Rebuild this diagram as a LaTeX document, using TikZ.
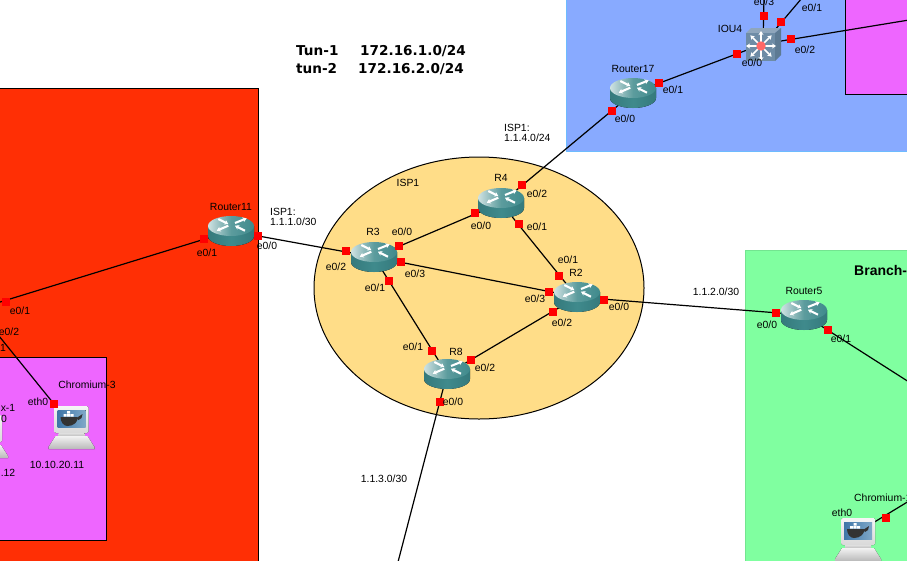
\documentclass[tikz,border=0pt]{standalone}
\usepackage{fontspec}
\setmainfont{Liberation Sans}
\newfontfamily\titlefont{DejaVu Sans}
\usetikzlibrary{arrows.meta}
\definecolor{redzone}{HTML}{FF2F05}
\definecolor{violetzone}{HTML}{EE66FF}
\definecolor{bluezone}{HTML}{88AAFF}
\definecolor{greenzone}{HTML}{80FFA0}
\definecolor{ispzone}{HTML}{FFDD88}
\definecolor{teal1}{HTML}{3F8A8C}
\definecolor{teal2}{HTML}{2F6F72}
\definecolor{portred}{HTML}{FF0000}
\definecolor{swfront}{HTML}{6E8CA6}
\definecolor{swtop}{HTML}{8FA6BC}
\definecolor{swside}{HTML}{5D7A93}
\definecolor{scr}{HTML}{3F76A8}
\definecolor{scrb}{HTML}{7FA8C8}
\tikzset{
  zone/.style={draw=black,line width=1pt},
  link/.style={draw=black,line width=1.2pt},
  port/.style={fill=portred,draw=none,minimum size=7.5pt,inner sep=0pt,rectangle},
  devbox/.style={inner sep=0pt,minimum width=46pt,minimum height=30pt,rectangle},
  lbl/.style={inner sep=0pt,font=\fontsize{10.4}{11}\selectfont,text=black},
  lbll/.style={lbl,anchor=west,align=left},
  title/.style={inner sep=0pt,anchor=west,font=\titlefont\fontsize{13.6}{16}\selectfont\bfseries},
  xmark/.style={draw=white,line width=2.1pt,-{Stealth[length=4pt,width=5pt]}},
}
\newcommand{\routericon}[1]{%
  \begin{scope}[shift={(#1.center)}]
    \fill[left color=teal2!60!teal1,right color=teal2!60!teal1,middle color=teal1] (-23,-5) -- (-23,5) arc[start angle=180,end angle=360,x radius=23pt,y radius=10pt] -- (23,-5) -- cycle;
    \shade[left color=teal1!25!white,right color=teal1,middle color=teal1!85!white] (0,-5) ellipse [x radius=23pt,y radius=10pt];
    \draw[xmark] (-12.7,-12) -- (-2.7,-7);
    \draw[xmark] (4,-8) -- (15.7,-12.7);
    \draw[xmark] (-2.7,-5.3) -- (-14.3,-0.3);
    \draw[xmark] (14,-0.3) -- (4,-5.3);
  \end{scope}}
\newcommand{\laptopicon}[2]{%
  \begin{scope}[shift={(#1,#2)}]
    \fill[top color=white!92!gray,bottom color=gray!30!white,rounded corners=1.5pt] (0,0) rectangle (34,27);
    \fill[top color=gray!25!white,bottom color=gray!60!white] (4,27) rectangle (30,31);
    \fill[top color=white!90!gray,bottom color=gray!55!white] (1,30) -- (33,30) -- (40,41) -- (40,43) -- (-6,43) -- (-6,41) -- cycle;
    \fill[left color=scr,right color=scrb] (3,4) rectangle (31,21);
    \fill[black!80] (6,11) -- (23,11) .. controls (24,16) and (19,20) .. (13,20) .. controls (9,20) and (6,16) .. (6,11) -- cycle;
    \fill[black!80] (22,12) -- (28,8) -- (27,12) -- (24,14) -- cycle;
    \fill[white] (9,8) rectangle (12,10.5) (12.5,8) rectangle (15.5,10.5) (16,8) rectangle (19,10.5) (12.5,5) rectangle (15.5,7.5);
  \end{scope}}
\begin{document}
\begin{tikzpicture}[x=1pt,y=-1pt]
\useasboundingbox (0,0) rectangle (907,560);
\clip (0,0) rectangle (907,560);
\fill[white] (0,0) rectangle (907,560);
% zones
\draw[zone,fill=bluezone,draw=bluezone!80!cyan] (566,-5) rectangle (920,151);
\draw[zone,fill=violetzone] (845,-5) rectangle (920,94);
\draw[zone,fill=greenzone,draw=greenzone!90!black] (745,250) rectangle (920,570);
\draw[zone,fill=redzone] (-5,88) rectangle (258,570);
\draw[zone,fill=violetzone] (-5,357) rectangle (106,540);
\draw[zone,fill=ispzone] (479,288) ellipse [x radius=165pt,y radius=131pt];
% devices (anchors)
\node[devbox] (r3) at (374,257) {};
\node[devbox] (r4) at (501,203) {};
\node[devbox] (r2) at (577,297) {};
\node[devbox] (r8) at (447,374) {};
\node[devbox] (r11) at (231,231) {};
\node[devbox] (r17) at (633,93) {};
\node[devbox] (r5) at (804,315) {};
\node[inner sep=0pt,minimum width=35pt,minimum height=33pt] (iou) at (763,44) {};
\node[inner sep=0pt,minimum width=34pt,minimum height=28pt] (c3) at (71,419) {};
\node[inner sep=0pt,minimum width=34pt,minimum height=28pt] (c1) at (858,532) {};
% free ends
\coordinate (offa) at (-3,303);
\coordinate (offb) at (-1,336);
\coordinate (offc) at (398,562);
\coordinate (offd) at (764,-2);
\coordinate (offe) at (802,-2);
\coordinate (offf) at (909,20);
\coordinate (offg) at (909,382);
\coordinate (offh) at (909,501);
% connectors
\draw[link] (r11.center) -- (r3.center);
\draw[link] (r11.center) -- (offa);
\draw[link] (c3.center) ++(-17,-15) coordinate (c3p) (c3p) -- (offb);
\draw[link] (r3.center) -- (r4.center);
\draw[link] (r3.center) -- (r2.center);
\draw[link] (r3.center) -- (r8.center);
\draw[link] (r4.center) -- (r2.center);
\draw[link] (r2.center) -- (r8.center);
\draw[link] (r4.center) -- (r17.center);
\draw[link] (r2.center) -- (r5.center);
\draw[link] (r8.center) -- (offc);
\draw[link] (r17.center) -- (iou.center);
\draw[link] (iou.center) -- (offd);
\draw[link] (iou.center) -- (offe);
\draw[link] (iou.center) -- (offf);
\draw[link] (r5.center) -- (offg);
\draw[link] (c1.center) -- (offh);
% icons
\routericon{r3}\routericon{r4}\routericon{r2}\routericon{r8}\routericon{r11}\routericon{r17}\routericon{r5}
\laptopicon{54.5}{406}
\laptopicon{841}{518}
\laptopicon{-32}{415}
% switch
\begin{scope}[shift={(iou.center)}]
  \fill[swtop] (-17,-11) -- (-12,-16) -- (18,-16) -- (12,-11) -- cycle;
  \fill[swfront] (-17,-11) rectangle (12,17);
  \fill[swside] (12,-11) -- (18,-16) -- (18,11) -- (12,17) -- cycle;
  \foreach \a in {0,45,...,315}
    \draw[white,line width=1.6pt,-{Stealth[length=4pt,width=5pt]}] (-2,2) ++(\a:4) -- ++(\a:11);
  \fill[red!60!pink!85!white] (-2,2) circle (4.7pt);
\end{scope}
% ports
\foreach \n/\x/\y in {p1/346/251,p2/399/246,p3/401/262,p4/389/281,p5/522/185,p6/475/213,p7/519/224,p8/559/276,p9/549/292,p10/553/312,p11/604/300,p12/432/351,p13/471/360,p14/440/402,p15/258/236,p16/204/239,p17/6/302,p18/659/83,p19/612/111,p20/737/54,p21/791/39,p22/781/22,p23/764/16,p24/776/313,p25/828/330,p26/54/404,p27/886/518}
  \node[port] (\n) at (\x,\y) {};
% title
\node[title] (t1) at (296,51) {Tun-1};
\node[title] (t2) at (360,51) {172.16.1.0/24};
\node[title] (t3) at (296,69) {tun-2};
\node[title] (t4) at (358,69) {172.16.2.0/24};
\node[title,font=\fontsize{14}{16}\selectfont\bfseries] (t5) at (854,270) {Branch-};
% labels
\foreach \n/\x/\y/\t in {
 a1/373/232/R3,a2/402/232/e0\slash 0,a3/336/267/e0\slash 2,a4/375/288/e0\slash 1,a5/415/274/e0\slash 3,
 b1/501/178/R4,b2/537/194/e0\slash 2,b3/481/226/e0\slash 0,b4/537/227/e0\slash 1,
 d1/576/273/R2,d2/568/260/e0\slash 1,d3/535/299/e0\slash 3,d4/562/323/e0\slash 2,d5/619/307/e0\slash 0,
 f1/456/352/R8,f2/413/347/e0\slash 1,f3/485/368/e0\slash 2,f4/453/402/e0\slash 0,
 g1/231/207/Router11,g2/207/253/e0\slash 1,g3/267/246/e0\slash 0,
 h1/408/183/ISP1,h2/716/292/1.1.2.0\slash 30,h3/384/479/1.1.3.0\slash 30,
 i1/804/291/Router5,i2/767/325/e0\slash 0,i3/841/339/e0\slash 1,
 j1/633/69/Router17,j2/673/90/e0\slash 1,j3/625/119/e0\slash 0,
 k1/730/29/IOU4,k2/752/63/e0\slash 0,k3/805/50/e0\slash 2,k4/812/8/e0\slash 1,k5/764/2/e0\slash 3,
 l1/20/311/e0\slash 1,l2/9/332/e0\slash 2,l3/3/348/1,
 m1/38/402/eth0,m2/87/385/Chromium-3,m3/57/465/10.10.20.11,
 n1/8/408/x-1,n2/4/419/0,n3/8/473/.12,
 o1/842/513/eth0}
  \node[lbl] (\n) at (\x,\y) {\t};
\node[lbll] (o2) at (854,498) {Chromium-1};
\node[lbll] (q1) at (270,217) {ISP1:\\[-1pt]1.1.1.0/30};
\node[lbll] (q2) at (504,133) {ISP1:\\[-1pt]1.1.4.0/24};
\end{tikzpicture}
\end{document}
